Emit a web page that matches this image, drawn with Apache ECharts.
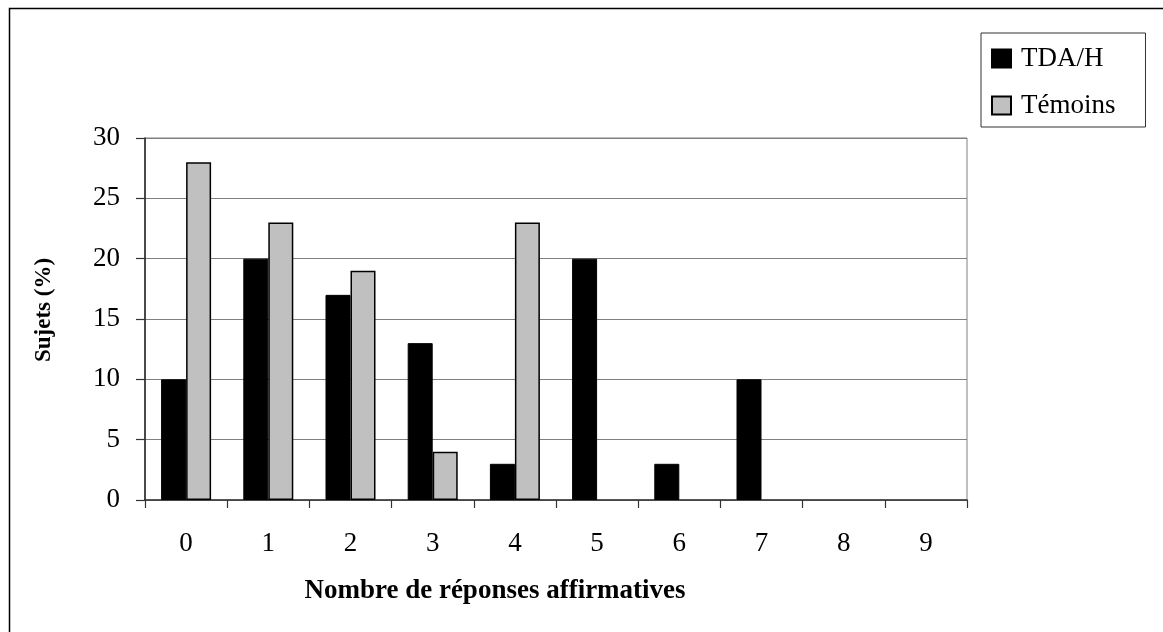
<!DOCTYPE html>
<html>
<head>
<meta charset="utf-8">
<script src="https://cdn.jsdelivr.net/npm/echarts@6/dist/echarts.min.js"></script>
<style>
html,body{margin:0;padding:0;background:#fff;}
#chart{width:1163px;height:632px;}
</style>
</head>
<body>
<div id="chart"></div>
<script>
var categories = ['0','1','2','3','4','5','6','7','8','9'];
var tdah = [10, 20, 17, 13, 3, 20, 3, 10, 0, 0];
var temoins = [28, 23, 19, 4, 23, 0, 0, 0, 0, 0];
var seriesNames = ['TDA/H', 'Témoins'];
var xTitle = 'Nombre de réponses affirmatives';
var yTitle = 'Sujets (%)';

// zero-height bars are not drawn in the reference
function hideZero(arr) { return arr.map(function (v) { return v === 0 ? '-' : v; }); }

var FONT = "'Liberation Serif', 'Times New Roman', serif";
var chart = echarts.init(document.getElementById('chart'));
chart.setOption({
  animation: false,
  backgroundColor: '#fff',
  grid: {
    left: 145, top: 138, width: 822, height: 362,
    show: true, borderColor: '#808080', borderWidth: 1, backgroundColor: 'transparent'
  },
  legend: {
    orient: 'vertical',
    left: 981, top: 33,
    padding: [12, 30, 8, 10],
    itemWidth: 19, itemHeight: 18, itemGap: 20,
    borderColor: '#333', borderWidth: 1,
    icon: 'rect',
    textStyle: { fontFamily: FONT, fontSize: 27, color: '#000', padding: [0, 0, 0, 5] },
    data: seriesNames
  },
  xAxis: {
    type: 'category',
    data: categories,
    axisLine: { lineStyle: { color: '#333', width: 1.5 } },
    axisTick: { show: true, length: 8, interval: 0, alignWithLabel: false, lineStyle: { color: '#333', width: 1.2 } },
    axisLabel: { fontFamily: FONT, fontSize: 27, color: '#000', margin: 30, interval: 0 },
    splitLine: { show: false }
  },
  yAxis: {
    type: 'value',
    min: 0, max: 30, interval: 5,
    axisLine: { show: true, lineStyle: { color: '#222', width: 1.5 } },
    axisTick: { show: true, length: 9, lineStyle: { color: '#333', width: 1.2 } },
    axisLabel: { fontFamily: FONT, fontSize: 27, color: '#000', margin: 25 },
    splitLine: { show: true, lineStyle: { color: '#808080', width: 1 } }
  },
  series: [
    {
      name: seriesNames[0], type: 'bar', data: hideZero(tdah),
      barWidth: 25, barGap: '0%',
      itemStyle: { color: '#000', borderColor: '#000', borderWidth: 1 }
    },
    {
      name: seriesNames[1], type: 'bar', data: hideZero(temoins),
      barWidth: 25, barGap: '0%',
      itemStyle: { color: '#c0c0c0', borderColor: '#000', borderWidth: 1.5 }
    }
  ],
  graphic: [
    {
      type: 'rect', silent: true,
      shape: { x: 9.5, y: 8.5, width: 1300, height: 800 },
      style: { fill: 'none', stroke: '#000', lineWidth: 1.5 }
    },
    {
      type: 'text', x: 495, y: 591, silent: true,
      style: { text: xTitle, font: "bold 27px " + FONT, fill: '#000', textAlign: 'center', textVerticalAlign: 'middle' }
    },
    {
      type: 'text', x: 44, y: 310, rotation: Math.PI / 2, silent: true,
      style: { text: yTitle, font: "bold 23px " + FONT, fill: '#000', textAlign: 'center', textVerticalAlign: 'middle' }
    }
  ]
});
</script>
</body>
</html>
